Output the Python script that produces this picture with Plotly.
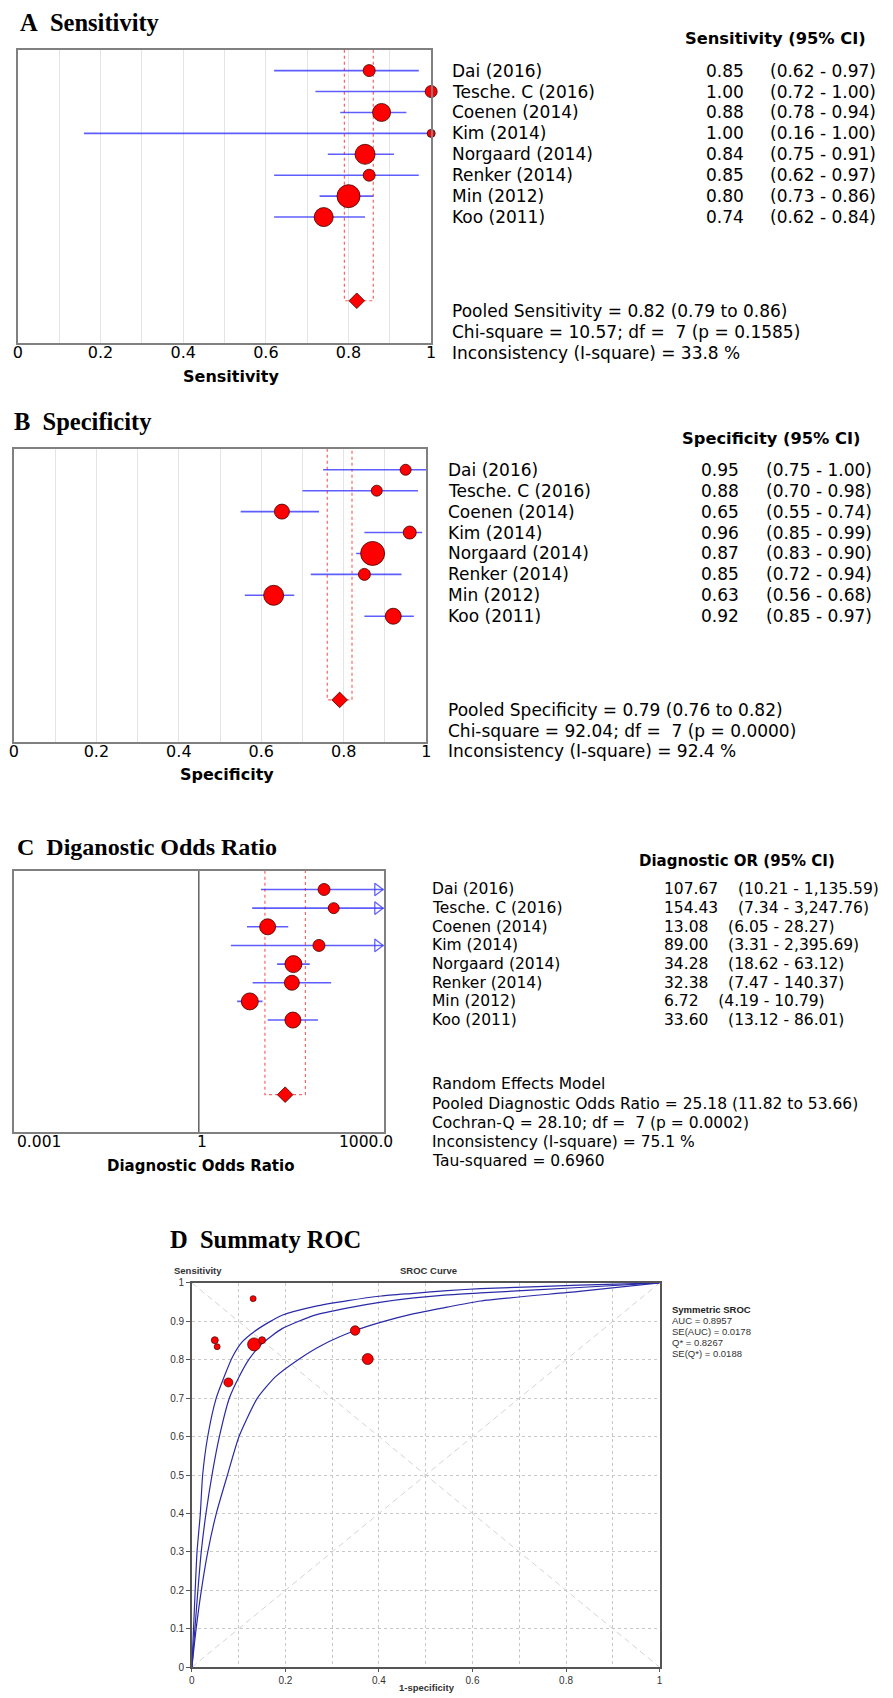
import math
import plotly.graph_objects as go

# ---------------- data ----------------
studies = ["Dai (2016)", "Tesche. C (2016)", "Coenen (2014)", "Kim (2014)",
           "Norgaard (2014)", "Renker (2014)", "Min (2012)", "Koo (2011)"]

sens_est = [0.85, 1.00, 0.88, 1.00, 0.84, 0.85, 0.80, 0.74]
sens_lo = [0.62, 0.72, 0.78, 0.16, 0.75, 0.62, 0.73, 0.62]
sens_hi = [0.97, 1.00, 0.94, 1.00, 0.91, 0.97, 0.86, 0.84]
sens_weight = [12, 12, 18, 8, 20, 12, 23, 19]
sens_pooled = [0.82, 0.79, 0.86]
sens_stats = ["Chi-square = 10.57; df =\u00a0\u00a07 (p = 0.1585)",
              "Inconsistency (I-square) = 33.8 %"]

spec_est = [0.95, 0.88, 0.65, 0.96, 0.87, 0.85, 0.63, 0.92]
spec_lo = [0.75, 0.70, 0.55, 0.85, 0.83, 0.72, 0.56, 0.85]
spec_hi = [1.00, 0.98, 0.74, 0.99, 0.90, 0.94, 0.68, 0.97]
spec_weight = [11, 11, 15, 13, 24, 12, 20, 16]
spec_pooled = [0.79, 0.76, 0.82]
spec_stats = ["Chi-square = 92.04; df =\u00a0\u00a07 (p = 0.0000)",
              "Inconsistency (I-square) = 92.4 %"]

dor_est = [107.67, 154.43, 13.08, 89.00, 34.28, 32.38, 6.72, 33.60]
dor_lo = [10.21, 7.34, 6.05, 3.31, 18.62, 7.47, 4.19, 13.12]
dor_hi = [1135.59, 3247.76, 28.27, 2395.69, 63.12, 140.37, 10.79, 86.01]
dor_weight = [12, 11, 16, 12, 17, 15, 17, 16]
dor_pooled = [25.18, 11.82, 53.66]
dor_stats = ["Cochran-Q = 28.10; df =\u00a0\u00a07 (p = 0.0002)",
             "Inconsistency (I-square) = 75.1 %",
             "Tau-squared = 0.6960"]

roc_fpr = [0.049, 0.131, 0.349, 0.054, 0.133, 0.150, 0.376, 0.078]
roc_tpr = [0.851, 0.959, 0.876, 0.834, 0.840, 0.851, 0.802, 0.741]
roc_weight = [7, 6, 9.5, 6, 13, 7, 11, 9]

sroc_upper_fpr = [0, 0.0035, 0.007, 0.011, 0.018, 0.023, 0.034, 0.052, 0.069, 0.087,
                  0.108, 0.133, 0.165, 0.193, 0.263, 0.334, 0.405, 0.475, 0.546,
                  0.617, 0.828, 1.0]
sroc_upper_tpr = [0, 0.099, 0.198, 0.300, 0.399, 0.500, 0.601, 0.700, 0.756, 0.808,
                  0.847, 0.873, 0.898, 0.916, 0.939, 0.954, 0.966, 0.973, 0.980,
                  0.985, 0.994, 1.0]
sroc_mid_fpr = [0, 0.0064, 0.0127, 0.020, 0.030, 0.043, 0.059, 0.080, 0.101, 0.122,
                0.150, 0.193, 0.263, 0.334, 0.405, 0.475, 0.546, 0.617, 0.828, 1.0]
sroc_mid_tpr = [0, 0.099, 0.198, 0.300, 0.399, 0.500, 0.601, 0.700, 0.756, 0.801,
                0.842, 0.881, 0.916, 0.935, 0.950, 0.961, 0.969, 0.974, 0.988, 1.0]
sroc_low_fpr = [0, 0.009, 0.020, 0.034, 0.052, 0.076, 0.101, 0.140, 0.179, 0.228,
                0.278, 0.349, 0.405, 0.475, 0.546, 0.617, 0.828, 1.0]
sroc_low_tpr = [0, 0.099, 0.198, 0.300, 0.399, 0.500, 0.601, 0.700, 0.756, 0.801,
                0.838, 0.876, 0.898, 0.920, 0.937, 0.953, 0.978, 1.0]
sroc_stats = ["AUC = 0.8957", "SE(AUC) = 0.0178", "Q* = 0.8267", "SE(Q*) = 0.0188"]

forest_ticks = [0, 0.2, 0.4, 0.6, 0.8, 1]
forest_tick_text = ["0", "0.2", "0.4", "0.6", "0.8", "1"]
dor_ticks = [0.001, 1, 1000]
dor_tick_text = ["0.001", "1", "1000.0"]
roc_y_ticks = [i / 10 for i in range(11)]
roc_y_text = ["0", "0.1", "0.2", "0.3", "0.4", "0.5", "0.6", "0.7", "0.8", "0.9", "1"]
roc_x_ticks = [0, 0.2, 0.4, 0.6, 0.8, 1]
roc_x_text = ["0", "0.2", "0.4", "0.6", "0.8", "1"]

# ---------------- layout helpers ----------------
W, H = 893, 1698


def px(x):
    return x / W


def py(y):
    return 1 - y / H


SANS = "DejaVu Sans"
ARIAL = "Liberation Sans"
SERIF = "Liberation Serif"
RED = "#ff0000"
BLUE_CI = "rgba(40,40,255,0.75)"
BOXRED = "rgba(255,60,60,0.8)"

n = len(studies)
rows = list(range(n))
POOLED_ROW = n + 3
Y_TOP = -1
Y_BOT = n + 5

fig = go.Figure()
annotations = []


def ann(text, x, y, size, xanchor="left", bold=False, family=SANS, xref="paper",
        yref="paper", color="black", xshift=0):
    if bold:
        text = "<b>" + text + "</b>"
    annotations.append(dict(text=text, x=x, y=y, xref=xref, yref=yref,
                            xanchor=xanchor, yanchor="middle", showarrow=False,
                            xshift=xshift,
                            font=dict(family=family, size=size, color=color)))


def forest(k, lo, hi, pooled, xmax):
    xa = "x" if k == 1 else f"x{k}"
    ya = "y" if k == 1 else f"y{k}"
    # pooled CI box
    fig.add_trace(go.Scatter(x=[pooled[1], pooled[1], pooled[2], pooled[2]],
                             y=[Y_TOP, POOLED_ROW, POOLED_ROW, Y_TOP], mode="lines",
                             line=dict(color=BOXRED, width=1.2, dash="dot"),
                             xaxis=xa, yaxis=ya, hoverinfo="skip"))
    # CI lines
    lx, ly = [], []
    for i in rows:
        lx += [lo[i], min(hi[i], xmax), None]
        ly += [i, i, None]
    fig.add_trace(go.Scatter(x=lx, y=ly, mode="lines",
                             line=dict(color=BLUE_CI, width=1.6),
                             xaxis=xa, yaxis=ya, hoverinfo="skip"))
    return xa, ya


def points(xa, ya, est, weight, pooled):
    fig.add_trace(go.Scatter(x=est, y=rows, mode="markers",
                             marker=dict(color=RED, size=weight, opacity=1,
                                         line=dict(color="#400000", width=0.8)),
                             cliponaxis=False, xaxis=xa, yaxis=ya,
                             text=studies))
    fig.add_trace(go.Scatter(x=[pooled[0]], y=[POOLED_ROW], mode="markers",
                             marker=dict(color=RED, size=12, symbol="diamond", opacity=1,
                                         line=dict(color="#400000", width=0.8)),
                             cliponaxis=False, xaxis=xa, yaxis=ya))


# ---------- Panel A ----------
xa, ya = forest(1, sens_lo, sens_hi, sens_pooled, 1.0)
points(xa, ya, sens_est, sens_weight, sens_pooled)
# ---------- Panel B ----------
xa, ya = forest(2, spec_lo, spec_hi, spec_pooled, 1.0)
points(xa, ya, spec_est, spec_weight, spec_pooled)
# ---------- Panel C ----------
DOR_LOG_RANGE = [-3, 3]
dor_max = 10 ** DOR_LOG_RANGE[1]
xa, ya = forest(3, dor_lo, dor_hi, dor_pooled, dor_max)
arrow_rows = [i for i in rows if dor_hi[i] > dor_max]
fig.add_trace(go.Scatter(x=[10 ** (DOR_LOG_RANGE[1] - 0.1)] * len(arrow_rows), y=arrow_rows,
                         mode="markers",
                         marker=dict(symbol="triangle-right-open", size=11, opacity=1,
                                     color="rgba(60,60,255,0.8)", line=dict(width=1.3)),
                         cliponaxis=False, xaxis="x3", yaxis="y3", hoverinfo="skip"))
points(xa, ya, dor_est, dor_weight, dor_pooled)

# ---------- Panel D ----------
for fx, ty in [(sroc_upper_fpr, sroc_upper_tpr), (sroc_mid_fpr, sroc_mid_tpr),
               (sroc_low_fpr, sroc_low_tpr)]:
    fig.add_trace(go.Scatter(x=fx, y=ty, mode="lines",
                             line=dict(color="#2a2aa8", width=1.2, shape="spline",
                                       smoothing=0.6),
                             xaxis="x4", yaxis="y4", hoverinfo="skip"))
fig.add_trace(go.Scatter(x=roc_fpr, y=roc_tpr, mode="markers",
                         marker=dict(color=RED, size=roc_weight, opacity=1,
                                     line=dict(color="#400000", width=0.7)),
                         xaxis="x4", yaxis="y4", text=studies))

# diagonal reference lines in ROC, null line in DOR panel
shapes = [
    dict(type="line", xref="x4", yref="y4", x0=0, y0=1, x1=1, y1=0,
         line=dict(color="#d4d4d4", width=1, dash="6px,4px"), layer="below"),
    dict(type="line", xref="x4", yref="y4", x0=0, y0=0, x1=1, y1=1,
         line=dict(color="#d4d4d4", width=1, dash="6px,4px"), layer="below"),
    dict(type="line", xref="x3", yref="y3 domain", x0=1, x1=1, y0=0, y1=1,
         line=dict(color="#555555", width=1.4), layer="below"),
]

# ---------------- axes ----------------
frame = dict(showline=True, mirror=True, linecolor="#808080", linewidth=1.5,
             zeroline=False)
tickfont = dict(family=SANS, size=16, color="black")


def forest_x(x0, x1, anchor):
    return dict(domain=[px(x0), px(x1)], range=[0, 1], anchor=anchor,
                tickvals=forest_ticks, ticktext=forest_tick_text, tickfont=tickfont,
                ticks="", showgrid=True, gridcolor="#e4e4e4", gridwidth=1,
                minor=dict(dtick=0.1, tick0=0, showgrid=True, gridcolor="#e4e4e4",
                           gridwidth=1),
                ticklabelstandoff=-6, **frame)


def forest_y(y_top, y_bot, anchor):
    return dict(domain=[py(y_bot), py(y_top)], range=[Y_BOT, Y_TOP], anchor=anchor,
                showticklabels=False, showgrid=False, ticks="", **frame)


layout = dict(
    width=W, height=H, margin=dict(l=0, r=0, t=0, b=0),
    paper_bgcolor="white", plot_bgcolor="white", showlegend=False,
    xaxis=forest_x(13, 431, "y"),
    yaxis=forest_y(44, 339, "x"),
    xaxis2=forest_x(9, 426, "y2"),
    yaxis2=forest_y(446, 741, "x2"),
    xaxis3=dict(domain=[px(9), px(383)], type="log", range=DOR_LOG_RANGE, anchor="y3",
                showticklabels=False, showgrid=False, ticks="", **frame),
    yaxis3=forest_y(871, 1134, "x3"),
    xaxis4=dict(domain=[px(189), px(662)], range=[0, 1], anchor="y4",
                tickvals=roc_x_ticks, ticktext=roc_x_text,
                tickfont=dict(family=ARIAL, size=10, color="#333333"),
                ticks="outside", ticklen=3, tickcolor="#555555",
                showgrid=True, gridcolor="#c8c8c8", griddash="3px,3px",
                minor=dict(dtick=0.1, tick0=0, showgrid=True, gridcolor="#c8c8c8",
                           griddash="3px,3px"),
                showline=True, mirror=True, linecolor="#555555", linewidth=1.5,
                zeroline=False),
    yaxis4=dict(domain=[py(1673), py(1286)], range=[0, 1], anchor="x4",
                tickvals=roc_y_ticks, ticktext=roc_y_text,
                tickfont=dict(family=ARIAL, size=10, color="#333333"),
                ticks="outside", ticklen=4, tickcolor="#555555",
                showgrid=True, gridcolor="#c8c8c8", griddash="3px,3px",
                showline=True, mirror=True, linecolor="#555555", linewidth=1.5,
                zeroline=False),
)

# ---------------- text ----------------
NB = "\u00a0"
# titles
ann(f"A{NB}{NB}Sensitivity", px(13), py(17), 24.5, bold=True, family=SERIF)
ann(f"B{NB}{NB}Specificity", px(7), py(418), 24.5, bold=True, family=SERIF)
ann(f"C{NB}{NB}Diganostic Odds Ratio", px(10), py(847), 24, bold=True, family=SERIF)
ann(f"D{NB}{NB}Summaty ROC", px(165), py(1242), 24.5, bold=True, family=SERIF)

# Panel A text
ann("Sensitivity (95% CI)", px(779), py(33), 16.3, xanchor="center", bold=True)
for i in rows:
    ann(studies[i], px(450), i, 17, yref="y")
    ann(f"{sens_est[i]:.2f}", px(749), i, 17, xanchor="right", yref="y")
    ann(f"({sens_lo[i]:.2f} - {sens_hi[i]:.2f})", px(772), i, 17, yref="y")
a_lines = [f"Pooled Sensitivity = {sens_pooled[0]:.2f} ({sens_pooled[1]:.2f} to {sens_pooled[2]:.2f})"] + sens_stats
for t, yy in zip(a_lines, [307, 328, 349]):
    ann(t, px(450), py(yy), 17)
ann("Sensitivity", px(229), py(373), 16, xanchor="center", bold=True)

# Panel B text
ann("Specificity (95% CI)", px(775), py(436), 16.3, xanchor="center", bold=True)
for i in rows:
    ann(studies[i], px(446), i, 17, yref="y2")
    ann(f"{spec_est[i]:.2f}", px(744), i, 17, xanchor="right", yref="y2")
    ann(f"({spec_lo[i]:.2f} - {spec_hi[i]:.2f})", px(768), i, 17, yref="y2")
b_lines = [f"Pooled Specificity = {spec_pooled[0]:.2f} ({spec_pooled[1]:.2f} to {spec_pooled[2]:.2f})"] + spec_stats
for t, yy in zip(b_lines, [709, 730, 750]):
    ann(t, px(446), py(yy), 17)
ann("Specificity", px(225), py(774), 16, xanchor="center", bold=True)

# Panel C text
ann("Diagnostic OR (95% CI)", px(740), py(861), 15, xanchor="center", bold=True)
for i in rows:
    ann(studies[i], px(430), i, 15.5, yref="y3")
    ann(f"{dor_est[i]:,.2f}{NB * 4}({dor_lo[i]:,.2f} - {dor_hi[i]:,.2f})", px(664), i,
        15.5, yref="y3")
c_lines = ["Random Effects Model",
           f"Pooled Diagnostic Odds Ratio = {dor_pooled[0]:.2f} ({dor_pooled[1]:.2f} to {dor_pooled[2]:.2f})"] + dor_stats
for t, yy in zip(c_lines, [1086, 1106, 1125, 1144, 1163]):
    ann(t, px(430), py(yy), 15.5)
# tick labels of the log axis (annotation x on a log axis is given in log10 units)
for v, t, anc, sh in zip(dor_ticks, dor_tick_text, ["left", "center", "right"], [1, 3, 11]):
    ann(t, math.log10(v), py(1144), 15.5, xanchor=anc, xref="x3", xshift=sh)
ann("Diagnostic Odds Ratio", px(198), py(1168), 15, xanchor="center", bold=True)

# Panel D text
ann("Sensitivity", px(169), py(1274), 9.5, bold=True, family=ARIAL, color="#333333")
ann("SROC Curve", px(428), py(1274), 9.5, xanchor="center", bold=True, family=ARIAL,
    color="#333333")
ann("1-specificity", px(427), py(1693), 9.5, xanchor="center", bold=True, family=ARIAL,
    color="#333333")
ann("Symmetric SROC", px(673), py(1313), 9.5, bold=True, family=ARIAL, color="#222222")
for t, yy in zip(sroc_stats, [1324, 1335, 1346, 1357]):
    ann(t, px(673), py(yy), 9.5, family=ARIAL, color="#333333")

layout["annotations"] = annotations
layout["shapes"] = shapes
fig.update_layout(**layout)
fig.write_html("out.html")
